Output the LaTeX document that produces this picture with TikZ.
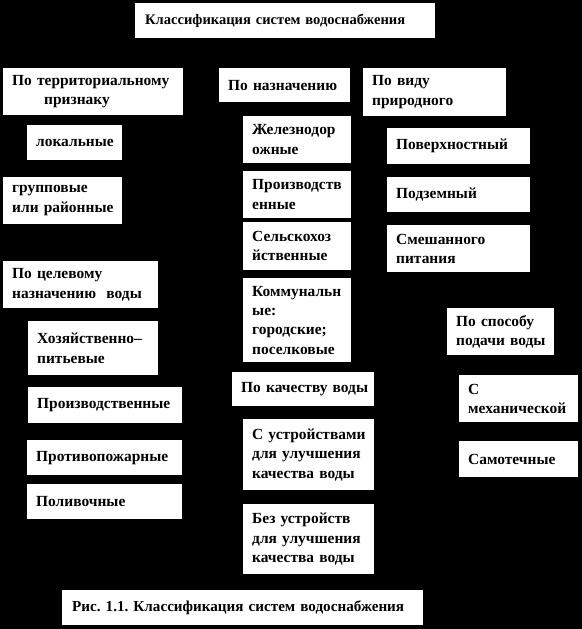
\documentclass[tikz,border=0pt]{standalone}
\usepackage{fontspec}
\setmainfont{Liberation Serif}
\frenchspacing
\begin{document}
\begin{tikzpicture}[x=1bp,y=-1bp,
  box/.style={fill=white, draw=none, anchor=north west, inner xsep=9bp, inner ysep=0pt,
    align=left, font=\bfseries\fontsize{15.5}{19.5}\selectfont, text=black}]
\fill[black] (0,0) rectangle (582,629);
\useasboundingbox (0,0) rectangle (582,629);
\node[box, text width=280bp, minimum height=35bp, inner xsep=10bp, font=\bfseries\fontsize{14.6}{19.5}\selectfont] (title) at (135,3) {Классификация~систем~водоснабжения};
\node[box, text width=162bp, minimum height=47bp] (terr) at (3,68) {По~территориальному\\\hspace*{32bp}признаку};
\node[box, text width=77bp, minimum height=35bp] (lok) at (27,125) {локальные};
\node[box, text width=101bp, minimum height=47bp] (grp) at (3,177) {групповые\\или~районные};
\node[box, text width=113bp, minimum height=34bp] (naz) at (219,68) {По~назначению};
\node[box, text width=125bp, minimum height=48bp] (vid) at (363,68) {По~виду\\природного};
\node[box, text width=90bp, minimum height=47bp] (zhd) at (243,116) {Железнодор\\ожные};
\node[box, text width=90bp, minimum height=47bp] (prz) at (243,171) {Производств\\енные};
\node[box, text width=90bp, minimum height=48bp] (sel) at (243,222) {Сельскохоз\\йственные};
\node[box, text width=90bp, minimum height=84bp] (kom) at (243,278) {Коммунальн\\ые:\\городские;\\поселковые};
\node[box, text width=124bp, minimum height=34bp] (kach) at (232,372) {По~качеству~воды};
\node[box, text width=113bp, minimum height=71bp] (sust) at (243,419) {С~устройствами\\для~улучшения\\качества~воды};
\node[box, text width=113bp, minimum height=70bp] (bez) at (243,504) {Без~устройств\\для~улучшения\\качества~воды};
\node[box, text width=125bp, minimum height=36bp] (pov) at (387,128) {Поверхностный};
\node[box, text width=125bp, minimum height=35bp] (podz) at (387,177) {Подземный};
\node[box, text width=125bp, minimum height=47bp] (smesh) at (387,225) {Смешанного\\питания};
\node[box, text width=89bp, minimum height=47bp] (spos) at (447,308) {По~способу\\подачи~воды};
\node[box, text width=101bp, minimum height=47bp] (mech) at (459,375) {С\\механической};
\node[box, text width=101bp, minimum height=36bp] (samo) at (459,441) {Самотечные};
\node[box, text width=137bp, minimum height=47bp] (cel) at (3,261) {По~целевому\\назначению~~воды};
\node[box, text width=112bp, minimum height=54bp] (hoz) at (28,321) {Хозяйственно–\\питьевые};
\node[box, text width=136bp, minimum height=36bp] (przL) at (28,387) {Производственные};
\node[box, text width=137bp, minimum height=35bp] (prot) at (27,440) {Противопожарные};
\node[box, text width=137bp, minimum height=35bp] (pol) at (27,484) {Поливочные};
\node[box, text width=341bp, minimum height=35bp, inner xsep=10bp, font=\bfseries\fontsize{15.2}{19.5}\selectfont] (ris) at (62,590) {Рис.~1.1.~Классификация~систем~водоснабжения};
\end{tikzpicture}
\end{document}
